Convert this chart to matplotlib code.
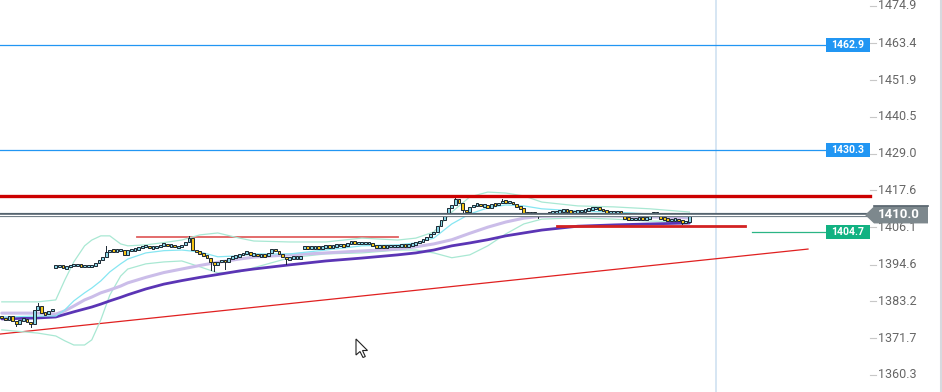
import matplotlib
matplotlib.use('Agg')
import matplotlib.pyplot as plt
from matplotlib.patches import Polygon, Rectangle
from matplotlib.lines import Line2D

# ---------------- data ----------------
closes = [
    1378.0, 1377.4, 1378.6, 1377.1, 1376.1, 1377.4, 1377.7, 1376.8, 1376.1, 1380.5,
    1381.7, 1379.5, 1379.2, 1380.2, 1380.8, 1394.2, 1394.2, 1393.6, 1393.9, 1394.5,
    1394.5, 1394.5, 1394.2, 1394.2, 1394.2, 1394.2, 1395.1, 1396.0, 1397.0, 1398.5,
    1399.1, 1398.8, 1399.1, 1399.1, 1397.6, 1399.1, 1399.1, 1399.4, 1399.8, 1400.4,
    1400.4, 1399.8, 1400.1, 1400.1, 1400.7, 1401.0, 1400.4, 1400.7, 1400.1, 1400.1,
    1400.7, 1401.6, 1402.8, 1399.1, 1398.5, 1398.2, 1397.3, 1396.7, 1395.4, 1394.5,
    1395.4, 1396.0, 1395.4, 1396.7, 1397.0, 1397.3, 1397.6, 1398.2, 1398.5, 1397.6,
    1397.9, 1397.3, 1397.6, 1397.3, 1398.2, 1399.4, 1398.8, 1397.9, 1397.0, 1396.3,
    1396.7, 1396.7, 1396.7, 1397.0, 1400.1, 1399.8, 1399.8, 1400.1, 1399.8, 1400.1,
    1400.4, 1400.1, 1400.4, 1400.7, 1400.7, 1400.4, 1401.3, 1401.6, 1401.3, 1401.3,
    1401.3, 1401.3, 1401.3, 1400.4, 1400.1, 1400.4, 1400.1, 1400.4, 1400.4, 1400.4,
    1400.4, 1400.7, 1400.4, 1400.7, 1401.0, 1401.3, 1401.9, 1402.2, 1403.2, 1404.1,
    1404.7, 1406.6, 1408.4, 1410.6, 1412.2, 1413.1, 1415.0, 1413.7, 1411.5, 1410.9,
    1412.5, 1413.1, 1413.4, 1412.8, 1413.1, 1412.2, 1413.4, 1413.1, 1413.7, 1414.3,
    1414.0, 1414.0, 1413.4, 1412.5, 1412.2, 1410.6, 1410.3, 1410.6, 1410.3, 1409.7,
    1410.3, 1410.3, 1410.9, 1410.9, 1410.9, 1411.2, 1411.5, 1411.2, 1410.9, 1410.9,
    1411.2, 1411.2, 1411.5, 1411.9, 1412.2, 1412.2, 1411.9, 1411.2, 1410.9, 1410.9,
    1410.9, 1410.9, 1410.6, 1409.1, 1408.7, 1408.7, 1408.7, 1409.1, 1408.7, 1409.1,
    1409.4, 1410.6, 1410.6, 1409.1, 1408.7, 1408.4, 1408.4, 1408.7, 1408.1, 1407.8,
    1407.8, 1410.0,
]
open_gaps = {0: 1378.6, 15: 1393.9, 84: 1399.8, 173: 1409.4, 181: 1410.3, 183: 1409.4}
wick_highs = {10: 1382.6, 29: 1400.4, 52: 1403.4, 126: 1415.6, 139: 1414.9, 191: 1410.3}
wick_lows = {4: 1375.5, 8: 1375.2, 58: 1393.0, 59: 1392.6, 62: 1393.2, 79: 1394.9,
             128: 1410.3, 149: 1409.1, 189: 1407.2}

ma_x = [0, 10, 15, 17.5, 20, 23, 25, 27.5, 30, 33, 35, 40, 45, 50, 55, 60, 66, 70, 80, 90,
        100, 110, 115, 120, 125, 130, 135, 140, 145, 150, 160, 170, 180, 191]
ma_slow = [1377.7, 1378.0, 1378.3, 1379.1, 1379.9, 1380.8, 1381.4, 1382.3, 1383.3, 1384.4,
           1385.2, 1387.0, 1388.5, 1389.6, 1390.6, 1391.5, 1392.6, 1393.2, 1394.5, 1395.7,
           1396.6, 1397.6, 1398.2, 1399.1, 1400.4, 1401.3, 1402.3, 1403.5, 1404.4, 1405.3,
           1406.5, 1406.9, 1407.2, 1407.5]
ma_mid = [1379.5, 1379.5, 1379.2, 1380.2, 1381.7, 1383.6, 1384.5, 1385.8, 1386.7, 1387.9,
          1388.9, 1390.6, 1392.1, 1393.2, 1394.3, 1395.3, 1396.3, 1396.9, 1397.6, 1398.2,
          1398.8, 1399.4, 1400.1, 1401.0, 1402.3, 1404.3, 1406.2, 1407.8, 1409.0, 1409.6,
          1409.8, 1409.7, 1409.4, 1409.1]
ma_fast = [1378.3, 1378.6, 1378.6, 1380.5, 1383.3, 1385.8, 1387.3, 1389.5, 1392.3, 1394.8,
           1396.3, 1398.2, 1398.9, 1399.1, 1398.5, 1397.0, 1397.3, 1397.9, 1397.9, 1399.1,
           1400.4, 1400.7, 1401.3, 1402.8, 1407.2, 1410.3, 1412.2, 1413.1, 1412.8, 1411.9,
           1411.2, 1410.9, 1410.3, 1409.4]
band_upper = [1383.0, 1383.0, 1383.6, 1389.8, 1395.4, 1400.4, 1402.2, 1403.5, 1403.5, 1401.0,
              1400.4, 1400.7, 1401.4, 1402.2, 1403.8, 1404.4, 1402.8, 1401.9, 1401.6, 1401.6,
              1402.8, 1402.2, 1402.8, 1404.7, 1410.9, 1415.6, 1417.1, 1416.8, 1415.9, 1414.0,
              1412.8, 1412.5, 1411.9, 1410.9]
band_lower = [1374.3, 1373.3, 1372.4, 1370.9, 1369.6, 1369.6, 1371.2, 1377.4, 1385.1, 1391.0,
              1393.2, 1394.8, 1395.4, 1395.7, 1393.9, 1392.0, 1392.3, 1393.6, 1396.7, 1397.9,
              1398.2, 1399.1, 1399.1, 1398.2, 1396.7, 1397.6, 1400.4, 1404.1, 1407.2, 1408.7,
              1409.1, 1408.7, 1408.1, 1407.8]

axis_ticks = [1474.9, 1463.4, 1451.9, 1440.5, 1429.0, 1417.6, 1406.1, 1394.6, 1383.2, 1371.7, 1360.3]
blue_levels = [1462.9, 1430.3]
red_level = 1415.9
last_price = 1410.0
green_level = 1404.7
red_short_level = 1406.6
red_old_level = 1403.15
trend_start, trend_end = 1373.0, 1399.4

# ---------------- layout ----------------
W, H = 942, 392
PXB = 3.6  # pixels per bar
Y_TOP, Y_BOT = 1476.76, 1355.0
UPP = (Y_TOP - Y_BOT) / H  # price units per pixel


def bx(px):
    return px / PXB - 0.5


fig = plt.figure(figsize=(W / 100, H / 100), dpi=100)
fig.patch.set_facecolor('white')
ax = fig.add_axes([0, 0, 1, 1])
ax.set_xlim(bx(0), bx(W))
ax.set_ylim(Y_BOT, Y_TOP)
ax.axis('off')

FONT = 'Roboto'

# crosshair vertical
ax.axvline(bx(716), color='#cfe2f1', lw=1.2, zorder=1)

# levels
for lv in blue_levels:
    ax.plot([bx(0), bx(826)], [lv, lv], color='#2196f3', lw=0.9, zorder=2)
ax.plot([bx(0), bx(870)], [red_level, red_level], color='#cc0000', lw=2.4, zorder=6)
ax.plot([bx(0), bx(868)], [last_price, last_price], color='#54636e', lw=3.0, zorder=6)
ax.plot([bx(0), bx(868)], [last_price, last_price], color='white', lw=1.0, zorder=6)
ax.plot([bx(752), bx(826)], [green_level, green_level], color='#2bb585', lw=0.9, zorder=2)
ax.plot([bx(557), bx(745)], [red_short_level, red_short_level], color='#d32222', lw=2.0, zorder=6)
ax.plot([bx(137), bx(398)], [red_old_level, red_old_level], color='#e06060', lw=1.3, zorder=2)
ax.plot([bx(0), bx(808)], [trend_start, trend_end], color='#e02020', lw=0.9, zorder=2)

# bands and moving averages
ax.plot(ma_x, band_upper, color='#a9e8d3', lw=0.9, zorder=3)
ax.plot(ma_x, band_lower, color='#a9e8d3', lw=0.9, zorder=3)
ax.plot(ma_x, ma_mid, color='#cbbde9', lw=2.2, zorder=3, solid_capstyle='round', solid_joinstyle='round')
ax.plot(ma_x, ma_slow, color='#5b35b5', lw=2.0, zorder=3, solid_capstyle='round', solid_joinstyle='round')
ax.plot(ma_x, ma_fast, color='#86e6f2', lw=0.9, zorder=3)

# candles
xs, bottoms, heights, colors = [], [], [], []
for i, c in enumerate(closes):
    o = open_gaps.get(i, closes[i - 1] if i > 0 else c)
    lo, hi = min(o, c), max(o, c)
    if hi - lo < 0.8:
        mid = (hi + lo) / 2
        lo, hi = mid - 0.4, mid + 0.4
    xs.append(i)
    bottoms.append(lo)
    heights.append(hi - lo)
    colors.append('#8ad6e6' if c >= o else '#f3c316')
    wh = wick_highs.get(i, hi)
    wl = wick_lows.get(i, lo)
    if wh > hi or wl < lo:
        ax.plot([i, i], [wl, wh], color='#1c2833', lw=0.7, zorder=4)
ax.bar(xs, heights, bottom=bottoms, width=0.8, color=colors, edgecolor='#1c2833',
       linewidth=0.7, zorder=5)

# right axis labels
for v in axis_ticks:
    ax.plot([bx(870), bx(876)], [v, v], color='#c8c8c8', lw=0.8, zorder=7)
    ax.text(bx(878), v, f'{v:.1f}', ha='left', va='center', fontsize=9,
            color='#666666', family=FONT, zorder=7)

# price boxes
box_h = 14 * UPP
for lv, col in [(blue_levels[0], '#2196f3'), (blue_levels[1], '#2196f3'), (green_level, '#12b282')]:
    ax.add_patch(Rectangle((bx(826), lv - box_h / 2), bx(870) - bx(826), box_h,
                           facecolor=col, edgecolor='none', zorder=8))
    ax.text((bx(826) + bx(870)) / 2, lv, f'{lv:.1f}', ha='center', va='center',
            fontsize=7.6, fontweight='bold', color='white', family=FONT, zorder=9)

# last-price tag
th = 8.5 * UPP
tag = Polygon([(bx(865), last_price), (bx(874), last_price + th), (bx(928), last_price + th),
               (bx(928), last_price - th), (bx(874), last_price - th)], closed=True,
              facecolor='#7d888d', edgecolor='none', zorder=8)
ax.add_patch(tag)
ax.plot([bx(874), bx(928)], [last_price + th, last_price + th], color='#4f5c66', lw=1.2, zorder=9)
ax.text(bx(899), last_price, f'{last_price:.1f}', ha='center', va='center', fontsize=9.5,
        fontweight='bold', color='white', family=FONT, zorder=9)

# right border
fig.add_artist(Line2D([940.5 / W, 940.5 / W], [0, 1], color='#d6dadf', lw=2.2))

# mouse cursor (decoration)
cx, cy = 356, 339
shape = [(0, 0), (0, 16), (4, 12.5), (7, 18.5), (9.3, 17.5), (6.5, 11.5), (11.5, 11.5)]
fig.add_artist(Polygon([((cx + dx) / W, 1 - (cy + dy) / H) for dx, dy in shape], closed=True,
                       facecolor='white', edgecolor='#222222', lw=0.8,
                       transform=fig.transFigure))

fig.savefig('out.png', dpi=100, facecolor='white')
